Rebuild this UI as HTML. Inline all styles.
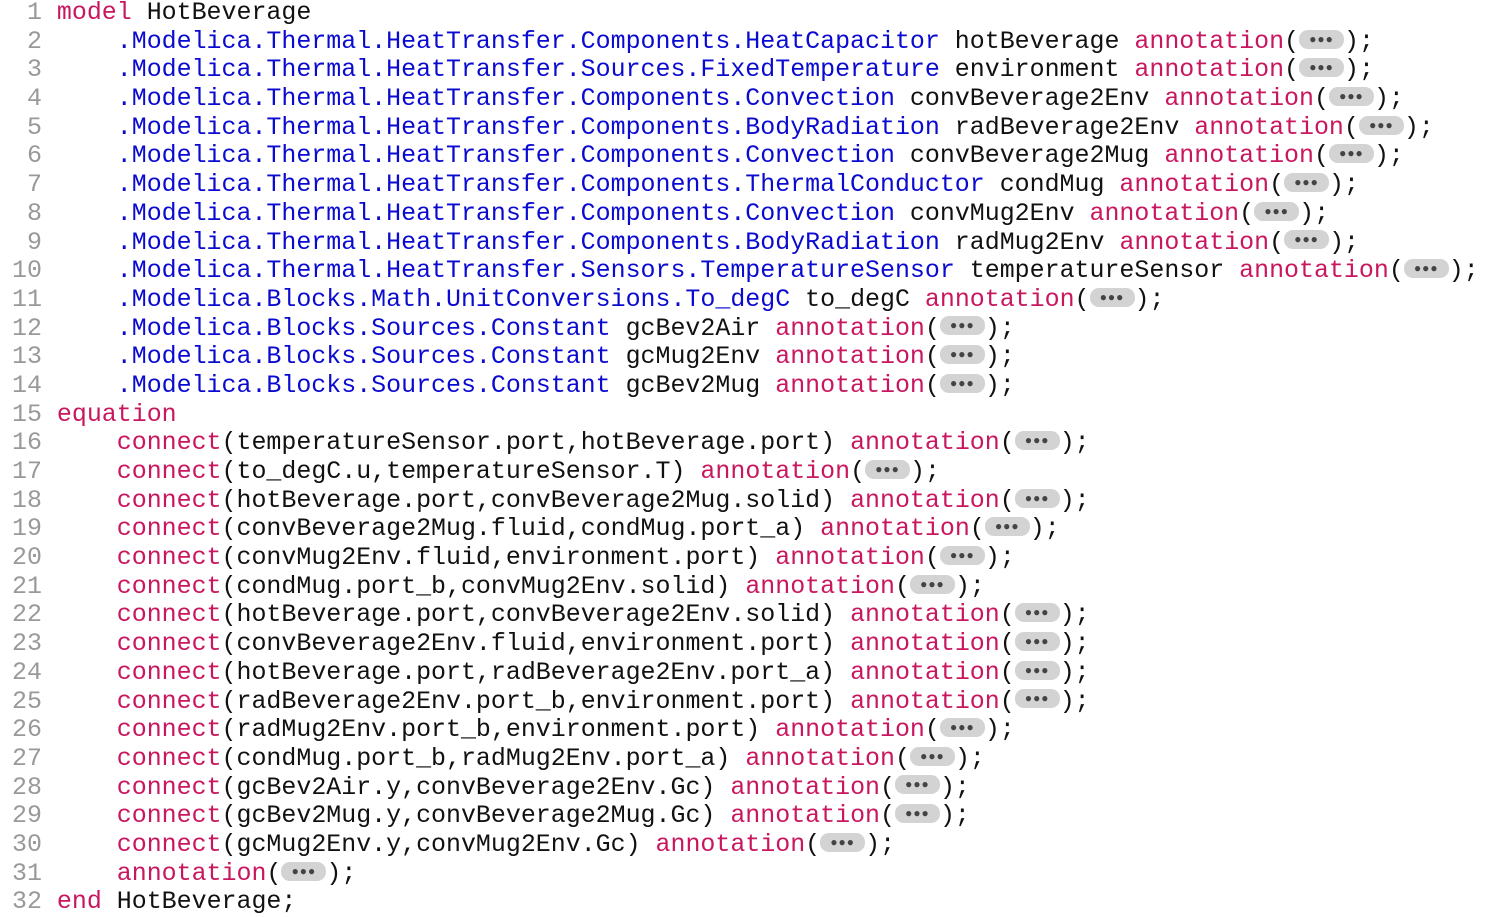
<!DOCTYPE html>
<html><head><meta charset="utf-8"><style>
html,body{margin:0;padding:0;background:#fff;width:1488px;height:917px;overflow:hidden}
pre{position:absolute;left:12px;top:-1px;margin:0;font-family:"Liberation Mono",monospace;font-size:24.95px;line-height:28.68px;color:#111}
.n{color:#999}.k{color:#c8175f}.t{color:#0a0ad0}
.p{display:inline-block;width:45px;height:19px;line-height:21px;vertical-align:middle;background:#d3d3d3;border-radius:9px;text-align:center;font-size:12px;color:#444;letter-spacing:1px;position:relative;top:-2px}
</style></head><body><pre>
<span class="n"> 1</span> <span class="k">model</span> HotBeverage
<span class="n"> 2</span>     <span class="t">.Modelica.Thermal.HeatTransfer.Components.HeatCapacitor</span> hotBeverage <span class="k">annotation</span>(<span class="p">●●●</span>);
<span class="n"> 3</span>     <span class="t">.Modelica.Thermal.HeatTransfer.Sources.FixedTemperature</span> environment <span class="k">annotation</span>(<span class="p">●●●</span>);
<span class="n"> 4</span>     <span class="t">.Modelica.Thermal.HeatTransfer.Components.Convection</span> convBeverage2Env <span class="k">annotation</span>(<span class="p">●●●</span>);
<span class="n"> 5</span>     <span class="t">.Modelica.Thermal.HeatTransfer.Components.BodyRadiation</span> radBeverage2Env <span class="k">annotation</span>(<span class="p">●●●</span>);
<span class="n"> 6</span>     <span class="t">.Modelica.Thermal.HeatTransfer.Components.Convection</span> convBeverage2Mug <span class="k">annotation</span>(<span class="p">●●●</span>);
<span class="n"> 7</span>     <span class="t">.Modelica.Thermal.HeatTransfer.Components.ThermalConductor</span> condMug <span class="k">annotation</span>(<span class="p">●●●</span>);
<span class="n"> 8</span>     <span class="t">.Modelica.Thermal.HeatTransfer.Components.Convection</span> convMug2Env <span class="k">annotation</span>(<span class="p">●●●</span>);
<span class="n"> 9</span>     <span class="t">.Modelica.Thermal.HeatTransfer.Components.BodyRadiation</span> radMug2Env <span class="k">annotation</span>(<span class="p">●●●</span>);
<span class="n">10</span>     <span class="t">.Modelica.Thermal.HeatTransfer.Sensors.TemperatureSensor</span> temperatureSensor <span class="k">annotation</span>(<span class="p">●●●</span>);
<span class="n">11</span>     <span class="t">.Modelica.Blocks.Math.UnitConversions.To_degC</span> to_degC <span class="k">annotation</span>(<span class="p">●●●</span>);
<span class="n">12</span>     <span class="t">.Modelica.Blocks.Sources.Constant</span> gcBev2Air <span class="k">annotation</span>(<span class="p">●●●</span>);
<span class="n">13</span>     <span class="t">.Modelica.Blocks.Sources.Constant</span> gcMug2Env <span class="k">annotation</span>(<span class="p">●●●</span>);
<span class="n">14</span>     <span class="t">.Modelica.Blocks.Sources.Constant</span> gcBev2Mug <span class="k">annotation</span>(<span class="p">●●●</span>);
<span class="n">15</span> <span class="k">equation</span>
<span class="n">16</span>     <span class="k">connect</span>(temperatureSensor.port,hotBeverage.port) <span class="k">annotation</span>(<span class="p">●●●</span>);
<span class="n">17</span>     <span class="k">connect</span>(to_degC.u,temperatureSensor.T) <span class="k">annotation</span>(<span class="p">●●●</span>);
<span class="n">18</span>     <span class="k">connect</span>(hotBeverage.port,convBeverage2Mug.solid) <span class="k">annotation</span>(<span class="p">●●●</span>);
<span class="n">19</span>     <span class="k">connect</span>(convBeverage2Mug.fluid,condMug.port_a) <span class="k">annotation</span>(<span class="p">●●●</span>);
<span class="n">20</span>     <span class="k">connect</span>(convMug2Env.fluid,environment.port) <span class="k">annotation</span>(<span class="p">●●●</span>);
<span class="n">21</span>     <span class="k">connect</span>(condMug.port_b,convMug2Env.solid) <span class="k">annotation</span>(<span class="p">●●●</span>);
<span class="n">22</span>     <span class="k">connect</span>(hotBeverage.port,convBeverage2Env.solid) <span class="k">annotation</span>(<span class="p">●●●</span>);
<span class="n">23</span>     <span class="k">connect</span>(convBeverage2Env.fluid,environment.port) <span class="k">annotation</span>(<span class="p">●●●</span>);
<span class="n">24</span>     <span class="k">connect</span>(hotBeverage.port,radBeverage2Env.port_a) <span class="k">annotation</span>(<span class="p">●●●</span>);
<span class="n">25</span>     <span class="k">connect</span>(radBeverage2Env.port_b,environment.port) <span class="k">annotation</span>(<span class="p">●●●</span>);
<span class="n">26</span>     <span class="k">connect</span>(radMug2Env.port_b,environment.port) <span class="k">annotation</span>(<span class="p">●●●</span>);
<span class="n">27</span>     <span class="k">connect</span>(condMug.port_b,radMug2Env.port_a) <span class="k">annotation</span>(<span class="p">●●●</span>);
<span class="n">28</span>     <span class="k">connect</span>(gcBev2Air.y,convBeverage2Env.Gc) <span class="k">annotation</span>(<span class="p">●●●</span>);
<span class="n">29</span>     <span class="k">connect</span>(gcBev2Mug.y,convBeverage2Mug.Gc) <span class="k">annotation</span>(<span class="p">●●●</span>);
<span class="n">30</span>     <span class="k">connect</span>(gcMug2Env.y,convMug2Env.Gc) <span class="k">annotation</span>(<span class="p">●●●</span>);
<span class="n">31</span>     <span class="k">annotation</span>(<span class="p">●●●</span>);
<span class="n">32</span> <span class="k">end</span> HotBeverage;
</pre></body></html>
